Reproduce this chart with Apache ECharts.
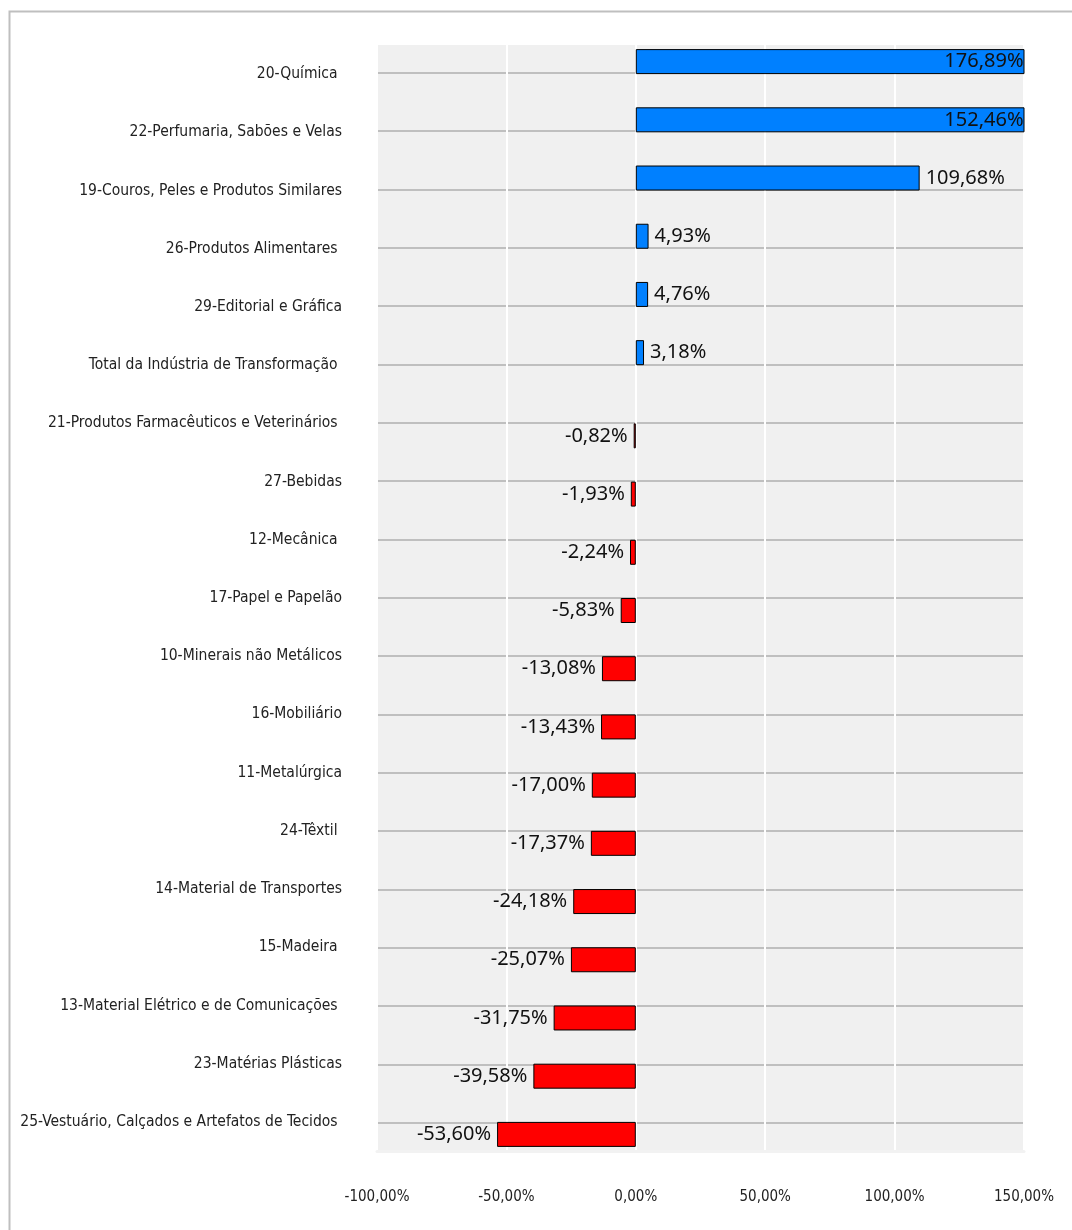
<!DOCTYPE html>
<html>
<head>
<meta charset="utf-8">
<script src="https://cdn.jsdelivr.net/npm/echarts@6/dist/echarts.min.js"></script>
<style>
  html, body { margin: 0; padding: 0; background: #fff; }
  #chart { width: 1072px; height: 1230px; }
</style>
</head>
<body>
<div id="chart"></div>
<script>
const categories = [
  '20-Química ',
  '22-Perfumaria, Sabões e Velas',
  '19-Couros, Peles e Produtos Similares',
  '26-Produtos Alimentares ',
  '29-Editorial e Gráfica',
  'Total da Indústria de Transformação ',
  '21-Produtos Farmacêuticos e Veterinários ',
  '27-Bebidas',
  '12-Mecânica ',
  '17-Papel e Papelão',
  '10-Minerais não Metálicos',
  '16-Mobiliário',
  '11-Metalúrgica',
  '24-Têxtil ',
  '14-Material de Transportes',
  '15-Madeira ',
  '13-Material Elétrico e de Comunicações ',
  '23-Matérias Plásticas',
  '25-Vestuário, Calçados e Artefatos de Tecidos '
];
const values = [
  176.89, 152.46, 109.68, 4.93, 4.76, 3.18, -0.82, -1.93, -2.24, -5.83,
  -13.08, -13.43, -17.00, -17.37, -24.18, -25.07, -31.75, -39.58, -53.60
];
const axisMin = -100;
const axisMax = 150;
const axisStep = 50;

const narrowFont = "'Liberation Sans Narrow', 'DejaVu Sans Condensed', sans-serif";
const pct = v => v.toFixed(2).replace('.', ',') + '%';

// positive and negative values go in two series so they sit above / below the row line
const posData = values.map(v => {
  if (v < 0) return '-';
  if (v > axisMax) return { value: v, label: { position: 'insideRight', distance: 1 } };
  return v;
});
const negData = values.map(v => (v < 0 ? v : '-'));

const chart = echarts.init(document.getElementById('chart'));

const barLabel = position => ({
  show: true,
  position,
  distance: 6,
  fontFamily: 'Noto Sans',
  fontSize: 20,
  color: '#111',
  formatter: p => pct(p.value)
});

chart.setOption({
  backgroundColor: '#fff',
  animation: false,
  graphic: [{
    type: 'rect',
    left: 7, top: 9,
    shape: { width: 1200, height: 1400 },
    style: { fill: 'none', stroke: '#bfbfbf', lineWidth: 2 },
    silent: true
  }],
  grid: [
    { left: 377, right: 48, top: 45, bottom: 79, outerBoundsMode: 'none', containLabel: false,
      backgroundColor: '#f0f0f0', show: true, borderWidth: 0 },
    { left: 377, right: 48, top: 72.7, bottom: 107.3, outerBoundsMode: 'none', containLabel: false }
  ],
  xAxis: [
    {
      type: 'value', gridIndex: 0,
      min: axisMin, max: axisMax, interval: axisStep,
      z: 1,
      axisLine: { show: true, onZero: false, lineStyle: { color: '#f2f2f2', width: 3 } },
      axisTick: { show: false },
      axisLabel: { margin: 39, fontFamily: narrowFont, fontSize: 15, color: '#222', formatter: v => pct(v) },
      splitLine: { show: true, lineStyle: { color: '#ffffff', width: 2 } }
    },
    { type: 'value', gridIndex: 1, show: false, min: axisMin, max: axisMax }
  ],
  yAxis: [
    {
      type: 'category', gridIndex: 0,
      data: categories, inverse: true,
      axisLine: { show: false },
      axisTick: { show: false },
      axisLabel: { margin: 35, fontFamily: narrowFont, fontSize: 15.5, color: '#222' },
      splitLine: { show: false }
    },
    {
      type: 'value', gridIndex: 1,
      min: 0, max: categories.length - 1, interval: 1,
      axisLine: { show: false },
      axisTick: { show: false },
      axisLabel: { show: false },
      splitLine: { show: true, lineStyle: { color: '#bfbfbf', width: 2 } }
    }
  ],
  series: [
    {
      type: 'bar', xAxisIndex: 0, yAxisIndex: 0,
      data: posData,
      barWidth: 25, barGap: '0%',
      itemStyle: { color: '#0080ff', borderColor: '#000', borderWidth: 1 },
      label: barLabel('right')
    },
    {
      type: 'bar', xAxisIndex: 0, yAxisIndex: 0,
      data: negData,
      barWidth: 25, barGap: '0%',
      itemStyle: { color: '#ff0000', borderColor: '#000', borderWidth: 1 },
      label: barLabel('left')
    }
  ]
});
</script>
</body>
</html>
